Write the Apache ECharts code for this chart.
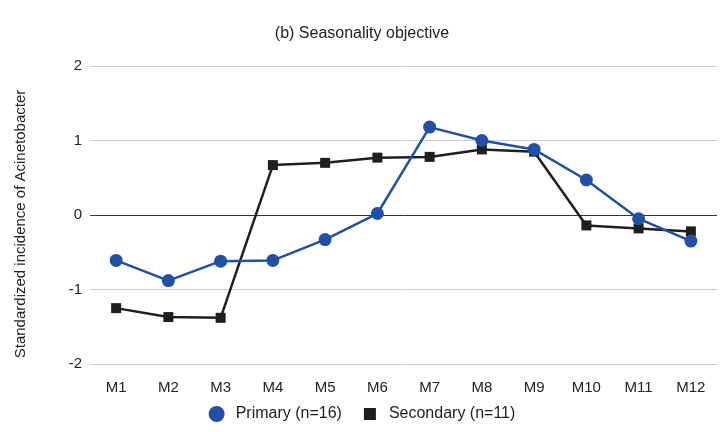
<!DOCTYPE html>
<html>
<head>
<meta charset="utf-8">
<script src="https://cdn.jsdelivr.net/npm/echarts@6/dist/echarts.min.js"></script>
<style>
  html, body { margin: 0; padding: 0; background: #fff; }
  #chart { width: 724px; height: 432px; }
</style>
</head>
<body>
<div id="chart"></div>
<script>
const months = ['M1', 'M2', 'M3', 'M4', 'M5', 'M6', 'M7', 'M8', 'M9', 'M10', 'M11', 'M12'];
const primary = [-0.61, -0.88, -0.62, -0.61, -0.33, 0.02, 1.18, 1.00, 0.88, 0.47, -0.05, -0.35];
const secondary = [-1.25, -1.37, -1.38, 0.67, 0.70, 0.77, 0.78, 0.88, 0.85, -0.14, -0.18, -0.22];

const font = 'Liberation Sans, Arial, sans-serif';
const myChart = echarts.init(document.getElementById('chart'));

myChart.setOption({
  animation: false,
  textStyle: { fontFamily: font },
  title: {
    text: '(b) Seasonality objective',
    left: 'center',
    top: 21,
    textStyle: { fontSize: 16, fontWeight: 'normal', color: '#222', fontFamily: font }
  },
  legend: {
    bottom: 5,
    left: 'center',
    itemGap: 20,
    itemWidth: 16,
    itemHeight: 16,
    textStyle: { fontSize: 16, color: '#222', fontFamily: font, padding: [0, 0, 0, 6] },
    data: [
      { name: 'Primary (n=16)', icon: 'circle' },
      // invisible move-to points pad the box so the square draws smaller than the circle
      { name: 'Secondary (n=11)', icon: 'path://M0,0M16,16M2,2H14V14H2Z' }
    ]
  },
  grid: { left: 90, right: 7, top: 66, bottom: 68 },
  xAxis: {
    type: 'category',
    data: months,
    axisLine: { show: false },
    axisTick: { show: false },
    axisLabel: { fontSize: 15, color: '#222', margin: 16 }
  },
  yAxis: {
    type: 'value',
    min: -2,
    max: 2,
    interval: 1,
    name: 'Standardized incidence of Acinetobacter',
    nameLocation: 'middle',
    nameGap: 62,
    // right padding nudges the rotated name a little lower, as in the original
    nameTextStyle: { fontSize: 15, color: '#222', padding: [0, 18, 0, 0] },
    axisLine: { show: false },
    axisTick: { show: false },
    axisLabel: { fontSize: 15, color: '#222', margin: 8 },
    splitLine: { lineStyle: { color: ['#cccccc', '#cccccc', '#333333', '#cccccc', '#cccccc'], width: 1 } }
  },
  series: [
    {
      name: 'Primary (n=16)',
      type: 'line',
      data: primary,
      symbol: 'circle',
      symbolSize: 13,
      itemStyle: { color: '#2150a4' },
      lineStyle: { color: '#2150a4', width: 2.5 },
      z: 3
    },
    {
      name: 'Secondary (n=11)',
      type: 'line',
      data: secondary,
      symbol: 'rect',
      symbolSize: 10,
      itemStyle: { color: '#1f1f1f' },
      lineStyle: { color: '#1f1f1f', width: 2.5 },
      z: 2
    }
  ]
});
</script>
</body>
</html>
